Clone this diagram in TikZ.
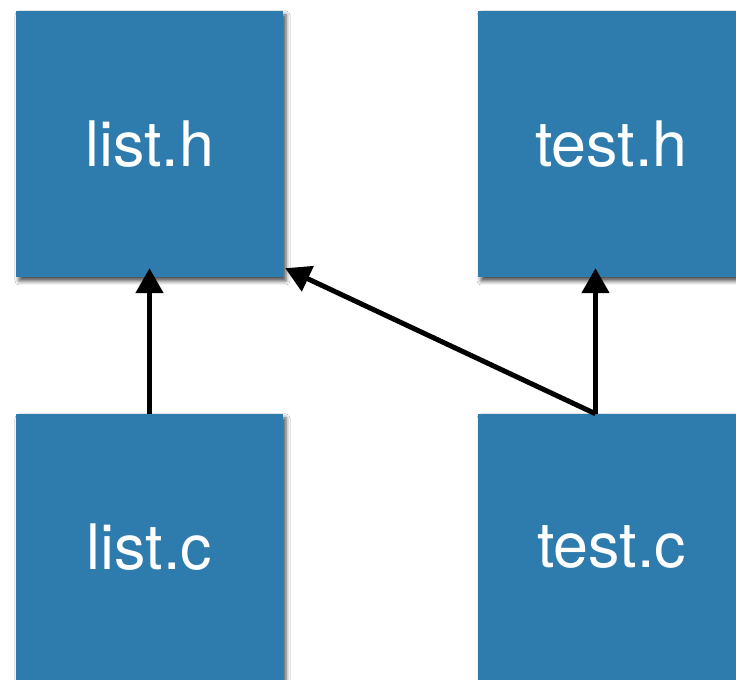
\documentclass[tikz,border=0pt]{standalone}
\usepackage{fontspec}
\setmainfont{TeX Gyre Heros}
\usetikzlibrary{arrows.meta,shadows.blur,calc}
\definecolor{filebox}{RGB}{46,123,173}
\tikzset{
  file/.style={fill=filebox, minimum width=267bp, minimum height=266bp,
    inner sep=0pt, text=white, font=\fontsize{63}{72}\selectfont,
    blur shadow={shadow xshift=3bp, shadow yshift=-4bp, shadow blur radius=4bp, shadow opacity=70}},
  dep/.style={line width=5bp, -{Triangle[width=27bp,length=25bp]}}
}
\begin{document}
\begin{tikzpicture}[x=1bp,y=1bp]
  \useasboundingbox (0,0) rectangle (736,680);
  \clip (0,0) rectangle (736,680);
  \fill[white] (0,0) rectangle (736,680);
  % header and source files
  \node[file] (lh) at (149.5,536) {list.h};
  \node[file] (th) at (611.5,536) {test.h};
  \node[file] (lc) at (149.5,133) {list.c};
  \node[file] (tc) at (611.5,133) {test.c};
  % include dependencies
  \coordinate (tcout) at ($(tc.north)+(-16,0)$);
  \coordinate (lhtip) at ($(lh.south east)+(2,9)$);
  \draw[dep] (lc.north) -- ($(lh.south)+(0,9)$);
  \draw[dep] (tcout) -- ($(th.south)+(-16,9)$);
  \draw[dep] (tcout) -- (lhtip);
\end{tikzpicture}
\end{document}
